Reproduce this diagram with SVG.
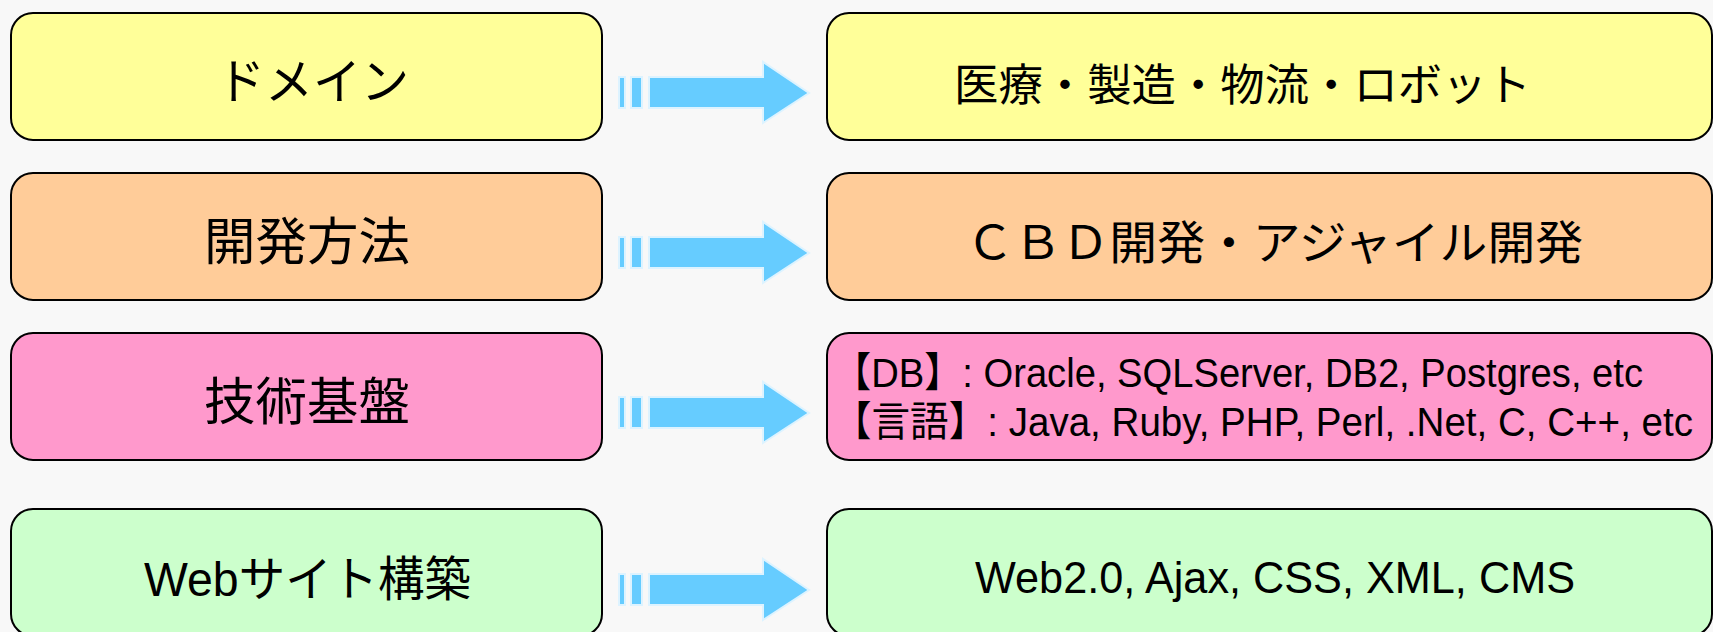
<svg xmlns="http://www.w3.org/2000/svg" width="1713" height="632" viewBox="0 0 1713 632">
<style>
.box{stroke:#000;stroke-width:2}
.y{fill:#FFFF99}.o{fill:#FFCC99}.p{fill:#FF99CC}.g{fill:#CCFFCC}
text{font-family:"Liberation Sans","Noto Sans CJK JP",sans-serif;fill:#000}
.arr{fill:#66CCFF;stroke:#DDF3FF;stroke-width:2}
</style>
<defs>
<g id="arrow">
<rect class="arr" x="619" y="77" width="6" height="31"/>
<rect class="arr" x="631" y="77" width="11" height="31"/>
<polygon class="arr" points="649,77 763,77 763,62 809,93 763,123 763,108 649,108"/>
</g>
</defs>
<rect width="1713" height="632" fill="#F8F8F8"/>
<g id="connectors">
<use href="#arrow"/>
<use href="#arrow" transform="translate(0,160)"/>
<use href="#arrow" transform="translate(0,320)"/>
<use href="#arrow" transform="translate(0,497)"/>
</g>
<g id="domain">
<rect class="box y" x="11" y="13" width="591" height="127" rx="22"/>
<text x="217" y="99" font-size="49" textLength="192" lengthAdjust="spacingAndGlyphs">ドメイン</text>
</g>
<g id="domain-detail">
<rect class="box y" x="827" y="13" width="885" height="127" rx="22"/>
<text x="954" y="101" font-size="44" textLength="577" lengthAdjust="spacingAndGlyphs">医療・製造・物流・ロボット</text>
</g>
<g id="method">
<rect class="box o" x="11" y="173" width="591" height="127" rx="22"/>
<text x="204" y="260" font-size="51" textLength="206" lengthAdjust="spacingAndGlyphs">開発方法</text>
</g>
<g id="method-detail">
<rect class="box o" x="827" y="173" width="885" height="127" rx="22"/>
<text x="966" y="259" font-size="46" textLength="617" lengthAdjust="spacingAndGlyphs">ＣＢＤ開発・アジャイル開発</text>
</g>
<g id="tech">
<rect class="box p" x="11" y="333" width="591" height="127" rx="22"/>
<text x="204" y="420" font-size="51" textLength="206" lengthAdjust="spacingAndGlyphs">技術基盤</text>
</g>
<g id="tech-detail">
<rect class="box p" x="827" y="333" width="885" height="127" rx="22"/>
<text x="833" y="387" font-size="41" textLength="810" lengthAdjust="spacingAndGlyphs">【DB】: Oracle, SQLServer, DB2, Postgres, etc</text>
<text transform="translate(833,436) scale(1,1.08)" x="0" y="0" font-size="38" textLength="860" lengthAdjust="spacingAndGlyphs">【言語】: Java, Ruby, PHP, Perl, .Net, C, C++, etc</text>
</g>
<g id="web">
<rect class="box g" x="11" y="509" width="591" height="127" rx="22"/>
<text x="144" y="596" font-size="48" textLength="327" lengthAdjust="spacingAndGlyphs">Webサイト構築</text>
</g>
<g id="web-detail">
<rect class="box g" x="827" y="509" width="885" height="127" rx="22"/>
<text x="975" y="593" font-size="45" textLength="600" lengthAdjust="spacingAndGlyphs">Web2.0, Ajax, CSS, XML, CMS</text>
</g>
</svg>
